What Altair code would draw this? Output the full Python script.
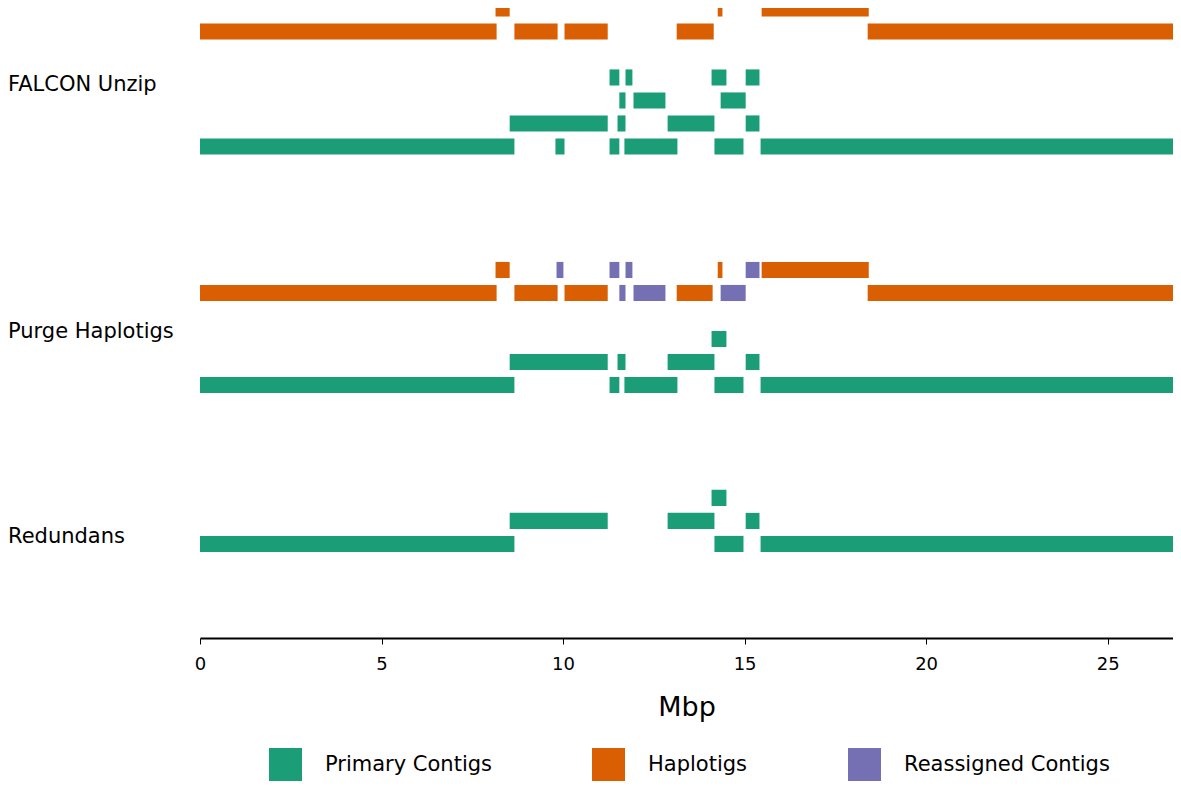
import altair as alt
import pandas as pd

# ---- data (Mbp) ----
# each entry: (track index within assembly, contig kind, start, end)
falcon_segments = [
    (6, "Haplotigs", 8.14, 8.53), (6, "Haplotigs", 14.26, 14.39), (6, "Haplotigs", 15.47, 18.42),
    (5, "Haplotigs", 0.0, 8.17), (5, "Haplotigs", 8.66, 9.85), (5, "Haplotigs", 10.04, 11.23),
    (5, "Haplotigs", 13.13, 14.15), (5, "Haplotigs", 18.39, 26.94),
    (3, "Primary Contigs", 11.28, 11.55), (3, "Primary Contigs", 11.72, 11.91),
    (3, "Primary Contigs", 14.09, 14.50), (3, "Primary Contigs", 15.03, 15.41),
    (2, "Primary Contigs", 11.55, 11.72), (2, "Primary Contigs", 11.94, 12.82),
    (2, "Primary Contigs", 14.34, 15.03),
    (1, "Primary Contigs", 8.53, 11.23), (1, "Primary Contigs", 11.50, 11.72),
    (1, "Primary Contigs", 12.88, 14.17), (1, "Primary Contigs", 15.03, 15.41),
    (0, "Primary Contigs", 0.0, 8.66), (0, "Primary Contigs", 9.79, 10.04),
    (0, "Primary Contigs", 11.28, 11.55), (0, "Primary Contigs", 11.69, 13.15),
    (0, "Primary Contigs", 14.17, 14.97), (0, "Primary Contigs", 15.44, 26.94),
]
purge_segments = [
    (5, "Haplotigs", 8.14, 8.53), (5, "Reassigned Contigs", 9.82, 10.01),
    (5, "Reassigned Contigs", 11.28, 11.55), (5, "Reassigned Contigs", 11.72, 11.91),
    (5, "Haplotigs", 14.26, 14.39), (5, "Reassigned Contigs", 15.03, 15.41),
    (5, "Haplotigs", 15.47, 18.42),
    (4, "Haplotigs", 0.0, 8.17), (4, "Haplotigs", 8.66, 9.85), (4, "Haplotigs", 10.04, 11.23),
    (4, "Reassigned Contigs", 11.55, 11.72), (4, "Reassigned Contigs", 11.94, 12.82),
    (4, "Haplotigs", 13.13, 14.12), (4, "Reassigned Contigs", 14.34, 15.03),
    (4, "Haplotigs", 18.39, 26.94),
    (2, "Primary Contigs", 14.09, 14.50),
    (1, "Primary Contigs", 8.53, 11.23), (1, "Primary Contigs", 11.50, 11.72),
    (1, "Primary Contigs", 12.88, 14.17), (1, "Primary Contigs", 15.03, 15.41),
    (0, "Primary Contigs", 0.0, 8.66), (0, "Primary Contigs", 11.28, 11.55),
    (0, "Primary Contigs", 11.69, 13.15), (0, "Primary Contigs", 14.17, 14.97),
    (0, "Primary Contigs", 15.44, 26.94),
]
redundans_segments = [
    (2, "Primary Contigs", 14.09, 14.50),
    (1, "Primary Contigs", 8.53, 11.23), (1, "Primary Contigs", 12.88, 14.17),
    (1, "Primary Contigs", 15.03, 15.41),
    (0, "Primary Contigs", 0.0, 8.66), (0, "Primary Contigs", 14.17, 14.97),
    (0, "Primary Contigs", 15.44, 26.94),
]

assemblies = ["FALCON Unzip", "Purge Haplotigs", "Redundans"]
assembly_base = [21.37, 11.0, 4.09]        # track-0 level of each assembly
label_level = [24.05, 13.3, 4.4]            # vertical level of each assembly name
legend_names = ["Primary Contigs", "Haplotigs", "Reassigned Contigs"]
legend_colors = ["#1b9e77", "#d95f02", "#7570b3"]
x_ticks = [0, 5, 10, 15, 20, 25]
x_max = 26.80
y_max = 27.39
half_h = 0.35

rows = []
for name, base, segs in zip(assemblies, assembly_base,
                            [falcon_segments, purge_segments, redundans_segments]):
    for track, kind, s, e in segs:
        lvl = base + track
        rows.append({"assembly": name, "kind": kind, "start": s, "end": e,
                     "y0": lvl - half_h, "y1": lvl + half_h})
df = pd.DataFrame(rows)
labels = pd.DataFrame({"name": assemblies, "level": label_level})

FONT = "DejaVu Sans"

xscale = alt.Scale(domain=[0, x_max], nice=False, zero=False)
yscale = alt.Scale(domain=[0, y_max], nice=False, zero=False)

bars = alt.Chart(df).mark_rect(strokeWidth=0).encode(
    x=alt.X("start:Q", scale=xscale,
            axis=alt.Axis(values=x_ticks, format="d", grid=False, labelFlush=False,
                          labelFont=FONT, labelFontSize=18, labelColor="black",
                          labelPadding=11, tickSize=6, tickColor="black", tickWidth=1,
                          domainColor="black", domainWidth=2,
                          title="Mbp", titleFont=FONT, titleFontSize=27,
                          titleFontWeight="normal", titleColor="black", titlePadding=21)),
    x2="end:Q",
    y=alt.Y("y0:Q", scale=yscale, axis=None),
    y2="y1:Q",
    color=alt.Color("kind:N",
                    scale=alt.Scale(domain=legend_names, range=legend_colors),
                    legend=alt.Legend(orient="none", legendX=69, legendY=740,
                                      direction="horizontal", title=None,
                                      symbolType="square", symbolSize=1089,
                                      symbolStrokeWidth=0, symbolOpacity=1,
                                      labelFont=FONT, labelFontSize=21,
                                      labelColor="black", labelOffset=23,
                                      labelLimit=400, columnPadding=100)),
)

text = alt.Chart(labels).mark_text(align="left", baseline="middle", dx=-192,
                                   font=FONT, fontSize=21, color="black").encode(
    x=alt.datum(0, scale=xscale),
    y=alt.Y("level:Q", scale=yscale, axis=None),
    text="name:N",
)

chart = alt.layer(bars, text).properties(
    width=973, height=630,
    autosize=alt.AutoSizeParams(type="none"),
    padding={"left": 192, "top": 0, "right": 0, "bottom": 146},
).configure_view(stroke=None)

chart.save("out.html", embed_options={"renderer": "svg", "actions": False})
